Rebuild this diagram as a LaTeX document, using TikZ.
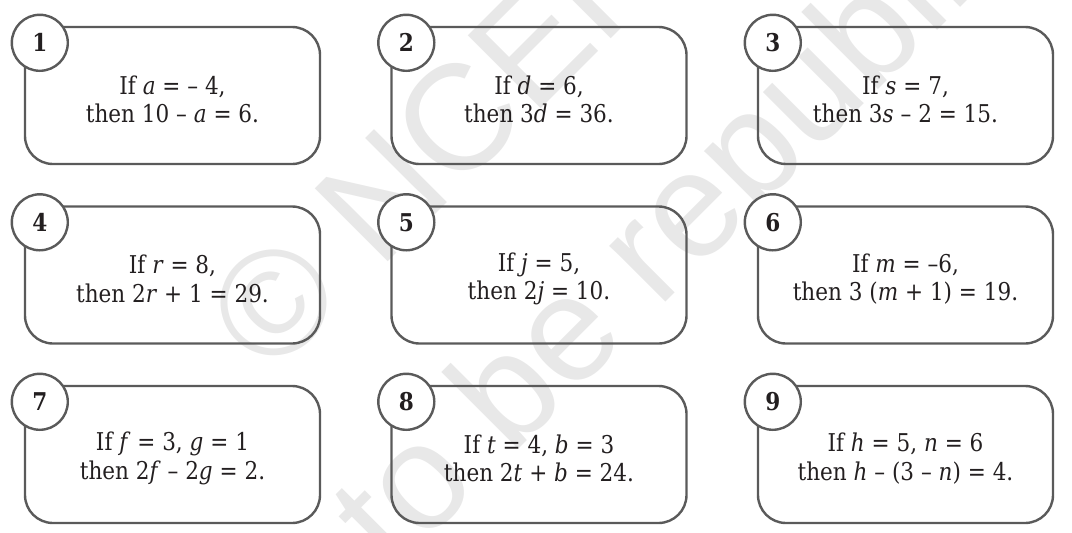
\documentclass[tikz,border=0pt]{standalone}
\usepackage{fontspec}
\setmainfont{DejaVu Serif}[FakeStretch=0.88]
\newfontfamily\stampfont{Liberation Sans}
\usepackage{tikz}
\definecolor{boxgray}{HTML}{5A5A5A}
\definecolor{inkblack}{HTML}{231F20}
\definecolor{stampgray}{HTML}{E8E8E8}

\begin{document}
\begin{tikzpicture}[x=1pt,y=-1pt]
    \tikzstyle{every node}=[font={\fontsize{24.5}{28.5}\selectfont}, text=inkblack]
    \tikzstyle{card}=[draw=boxgray, line width=2.4pt, rounded corners=28pt, minimum width=295pt, minimum height=137pt, inner sep=0pt]
    \tikzstyle{sum}=[align=center, inner sep=0pt]
    \tikzstyle{badge}=[circle, draw=boxgray, line width=2.4pt, fill=white, minimum size=56pt, inner sep=0pt, font={\fontsize{24.5}{28.5}\selectfont\bfseries}]
    \tikzstyle{stamp}=[text=stampgray, rotate=45, anchor=base, inner sep=0pt, font={\fontsize{150}{150}\stampfont}]
    \useasboundingbox (0,0) rectangle (1072,533);
    \clip (0,0) rectangle (1072,533);
    % watermark
    \node[stamp] (stampA) at (507,143) {\copyright\ NCERT};
    \node[stamp] (stampB) at (712,256) {not to be republished};
    % the nine cards
    \foreach \n/\col/\row/\txt in {
        1/0/0/{If \textit{a} = – 4,\\then 10 – \textit{a} = 6.},
        2/1/0/{If \textit{d} = 6,\\then 3\textit{d} = 36.},
        3/2/0/{If \textit{s} = 7,\\then 3\textit{s} – 2 = 15.},
        4/0/1/{If \textit{r} = 8,\\then 2\textit{r} + 1 = 29.},
        5/1/1/{If \textit{j} = 5,\\then 2\textit{j} = 10.},
        6/2/1/{If \textit{m} = –6,\\then 3 (\textit{m} + 1) = 19.},
        7/0/2/{If \textit{f} = 3, \textit{g} = 1\\then 2\textit{f} – 2\textit{g} = 2.},
        8/1/2/{If \textit{t} = 4, \textit{b} = 3\\then 2\textit{t} + \textit{b} = 24.},
        9/2/2/{If \textit{h} = 5, \textit{n} = 6\\then \textit{h} – (3 – \textit{n}) = 4.}}
    {
        \node[card] (card\n) at ({172.5+366.5*\col},{95.5+179.5*\row}) {};
        \node[sum] (sum\n) at ([yshift=-4pt]card\n.center) {\txt};
        \node[badge] (num\n) at ([xshift=16pt,yshift=-17pt]card\n.north west) {\n};
    }
\end{tikzpicture}
\end{document}
